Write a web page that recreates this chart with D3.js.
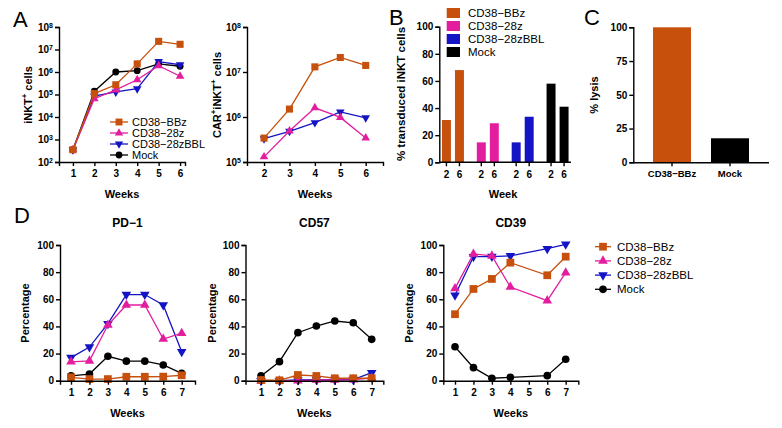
<!DOCTYPE html>
<html><head><meta charset="utf-8">
<script src="https://cdn.jsdelivr.net/npm/d3@7/dist/d3.min.js"></script>
<style>
body{margin:0;background:#fff;}
svg{display:block;font-family:"Liberation Sans",Arial,sans-serif;}
</style></head>
<body><svg id="c" width="782" height="428"></svg>
<script>
// ---------- DATA ----------
const seriesNames = ["CD38\u2212BBz","CD38\u221228z","CD38\u221228zBBL","Mock"];
const colors = ["#C6500C","#E21E9F","#1414C4","#000000"];

const weeksA1 = [1,2,3,4,5,6];
const a1BBz  = [350, 1.1e5, 2.7e5, 2.3e6, 2.3e7, 1.7e7];
const a1_28z = [350, 6.5e4, 1.6e5, 4.5e5, 1.9e6, 6.5e5];
const a1BBL  = [350, 8.5e4, 1.3e5, 1.8e5, 2.9e6, 2.1e6];
const a1Mock = [350, 1.4e5, 1.0e6, 1.15e6, 2.3e6, 1.8e6];
const a1Ticks = [1e2,1e3,1e4,1e5,1e6,1e7,1e8];

const weeksA2 = [2,3,4,5,6];
const a2BBz  = [3.4e5, 1.5e6, 1.3e7, 2.1e7, 1.4e7];
const a2_28z = [1.3e5, 4.9e5, 1.6e6, 9.8e5, 3.4e5];
const a2BBL  = [3.3e5, 4.8e5, 7.5e5, 1.3e6, 9.6e5];
const a2Ticks = [1e5,1e6,1e7,1e8];

const bWeeks = ["2","6"];
const bBBz  = [31.2, 68];
const b28z  = [14.7, 28.8];
const bBBL  = [14.7, 33.6];
const bMock = [58, 41];
const bTicks = [0,20,40,60,80,100];

const cCats = ["CD38\u2212BBz","Mock"];
const cLysis = [100, 17.8];
const cTicks = [0,25,50,75,100];

const weeksD = [1,2,3,4,5,6,7];
const pd1BBz  = [2.5, 1.2, 1.2, 2.9, 2.9, 3.0, 4.0];
const pd1_28z = [13.9, 14.6, 41, 55.8, 55.8, 30.7, 35];
const pd1BBL  = [17, 24.8, 42, 63.5, 63.5, 55.8, 21.4];
const pd1Mock = [3.6, 4.9, 18, 14.4, 14.4, 11.6, 5.4];

const cd57BBz  = [0.5, 0.3, 4.2, 3.5, 1.8, 1.8, 1.8];
const cd57_28z = [0, 0, 0, 0.5, 0.5, 0.8, 2];
const cd57BBL  = [0, 0, 0.5, 0.8, 0.8, 0.8, 5.9];
const cd57Mock = [3.5, 14, 35.4, 40.3, 44, 42.7, 30.5];

const weeksCD39 = [1,2,3,4,6,7];
const cd39BBz  = [49, 67.6, 75, 87, 77.7, 91.4];
const cd39_28z = [68, 93.4, 92, 69, 59, 79.6];
const cd39BBL  = [63, 91.4, 91.5, 92, 97.3, 100.5];
const cd39Mock = [25, 9.6, 1.8, 2.5, 3.7, 15.8];
const dTicks = [0,20,40,60,80,100];

// ---------- DRAWING ----------
const svg = d3.select("#c");
const FONT = "\"Liberation Sans\",Arial,sans-serif";
const symbolTypes = [d3.symbolSquare, d3.symbolTriangle, d3.symbolTriangle, d3.symbolCircle];
const symbolRot = [0,0,180,0];
const symA = [50, 32, 32, 38];
const symD = [60, 40, 40, 46];
const symLeg = [48, 30, 30, 36];

function styleAxis(g){
  g.selectAll("path.domain").attr("stroke","#000").attr("stroke-width",1.4);
  g.selectAll(".tick line").attr("stroke","#000").attr("stroke-width",1.4);
  g.selectAll(".tick text").attr("font-family",FONT).attr("font-weight","bold").attr("font-size","10px").attr("fill","#000");
}

function yTitle(x, y, parts, size){
  const t = svg.append("text").attr("transform",`translate(${x},${y}) rotate(-90)`)
    .attr("text-anchor","middle").attr("font-weight","bold").attr("font-size",size+"px");
  let prevSup=false;
  parts.forEach(([txt,sup])=>{
    const ts=t.append("tspan").text(txt);
    if(sup){ ts.attr("dy",(-0.45*size)+"px").attr("font-size",(size*0.7)+"px"); prevSup=true;}
    else if(prevSup){ ts.attr("dy",(0.45*size)+"px"); prevSup=false;}
  });
  return t;
}

function drawSeries(g, xs, ys, x, y, idx, sizes, lw){
  const pts = xs.map((d,i)=>[d, ys[i]]);
  g.append("path").datum(pts)
    .attr("fill","none").attr("stroke",colors[idx]).attr("stroke-width",lw)
    .attr("d", d3.line().x(d=>x(d[0])).y(d=>y(d[1])));
  g.selectAll(null).data(pts).enter().append("path")
    .attr("d", d3.symbol().type(symbolTypes[idx]).size(sizes[idx]))
    .attr("fill",colors[idx])
    .attr("transform", d=>`translate(${x(d[0])},${y(d[1])}) rotate(${symbolRot[idx]})`);
}

function linePanel(opt){
  const x = d3.scaleLinear().domain(opt.xDomain).range(opt.xRange);
  const y = (opt.log ? d3.scaleLog() : d3.scaleLinear()).domain(opt.yDomain).range(opt.yRange);
  const g = svg.append("g");
  for(let i=opt.series.length-1;i>=0;i--){
    const s = opt.series[i];
    drawSeries(g, s.x, s.y, x, y, s.idx, opt.sizes, 1.3);
  }
  const gx = svg.append("g").attr("transform",`translate(0,${opt.yRange[0]})`)
    .call(d3.axisBottom(x).tickValues(opt.xTicks).tickFormat(d3.format("d")).tickSizeOuter(0).tickSize(4).tickPadding(4));
  styleAxis(gx);
  const ya = d3.axisLeft(y).tickValues(opt.yTicks).tickSizeOuter(0).tickSize(4).tickPadding(2);
  if(!opt.log) ya.tickFormat(d3.format("d"));
  const gy = svg.append("g").attr("transform",`translate(${opt.xRange[0]},0)`).call(ya);
  styleAxis(gy);
  if(opt.log){
    gy.selectAll(".tick text").each(function(d){
      const t=d3.select(this); t.text("");
      t.append("tspan").text("10");
      t.append("tspan").attr("dy","-0.45em").attr("font-size","7px").text(Math.round(Math.log10(d)));
    });
  }
  return {x,y};
}

// ---------- Panel A1 ----------
linePanel({
  xDomain:[0.35,6.23], xRange:[59,185], yDomain:[1e2,1e8], yRange:[162,27], log:true,
  xTicks:weeksA1, yTicks:a1Ticks, sizes:symA,
  series:[
    {x:weeksA1,y:a1BBz,idx:0},{x:weeksA1,y:a1_28z,idx:1},
    {x:weeksA1,y:a1BBL,idx:2},{x:weeksA1,y:a1Mock,idx:3}]
});
svg.append("text").attr("x",122).attr("y",198).attr("text-anchor","middle")
  .attr("font-weight","bold").attr("font-size","11px").text("Weeks");
yTitle(32, 95, [["iNKT",false],["+",true],[" cells",false]], 11);

// A1 legend
seriesNames.forEach((n,i)=>{
  const yy = 122 + i*11;
  const lg = svg.append("g");
  lg.append("line").attr("x1",110).attr("x2",128).attr("y1",yy).attr("y2",yy).attr("stroke",colors[i]).attr("stroke-width",1.3);
  lg.append("path").attr("d",d3.symbol().type(symbolTypes[i]).size(symLeg[i])).attr("fill",colors[i])
    .attr("transform",`translate(119,${yy}) rotate(${symbolRot[i]})`);
  lg.append("text").attr("x",132).attr("y",yy+4).attr("font-size","11px").text(n);
});

// ---------- Panel A2 ----------
linePanel({
  xDomain:[1.33,6.68], xRange:[247,383], yDomain:[1e5,1e8], yRange:[162,27], log:true,
  xTicks:weeksA2, yTicks:a2Ticks, sizes:symA,
  series:[{x:weeksA2,y:a2BBz,idx:0},{x:weeksA2,y:a2_28z,idx:1},{x:weeksA2,y:a2BBL,idx:2}]
});
svg.append("text").attr("x",315).attr("y",198).attr("text-anchor","middle")
  .attr("font-weight","bold").attr("font-size","11px").text("Weeks");
yTitle(221, 95, [["CAR",false],["+",true],["iNKT",false],["+",true],[" cells",false]], 11);

// ---------- Panel B ----------
(function(){
  const groups = seriesNames;
  const vals = [bBBz,b28z,bBBL,bMock];
  const xg = d3.scaleBand().domain(groups).range([435.5,575]);
  const xi = d3.scaleBand().domain(bWeeks).range([-11,11]).paddingInner(0.31);
  const y = d3.scaleLinear().domain([0,100]).range([162.3,26.7]);
  const g = svg.append("g");
  groups.forEach((gr,gi)=>{
    bWeeks.forEach((w,wi)=>{
      const cx = xg(gr)+xg.bandwidth()/2;
      g.append("rect").attr("x",cx+xi(w)).attr("width",xi.bandwidth())
        .attr("y",y(vals[gi][wi])).attr("height",y(0)-y(vals[gi][wi]))
        .attr("fill",colors[gi]);
    });
  });
  const ax = svg.append("g");
  ax.append("line").attr("x1",439.3).attr("x2",571).attr("y1",y(0)).attr("y2",y(0)).attr("stroke","#000").attr("stroke-width",1.4);
  groups.forEach((gr,gi)=>{
    bWeeks.forEach(w=>{
      const cx = xg(gr)+xg.bandwidth()/2 + xi(w)+xi.bandwidth()/2;
      ax.append("line").attr("x1",cx).attr("x2",cx).attr("y1",y(0)).attr("y2",y(0)+4).attr("stroke","#000").attr("stroke-width",1.4);
      ax.append("text").attr("x",cx).attr("y",y(0)+16).attr("text-anchor","middle")
        .attr("font-weight","bold").attr("font-size","10px").text(w);
    });
  });
  const gy = svg.append("g").attr("transform","translate(439.3,0)")
    .call(d3.axisLeft(y).tickValues(bTicks).tickSizeOuter(0).tickSize(4).tickPadding(2));
  styleAxis(gy);
  svg.append("text").attr("x",503).attr("y",198).attr("text-anchor","middle")
    .attr("font-weight","bold").attr("font-size","11px").text("Week");
  yTitle(405, 94, [["% transduced iNKT cells",false]], 11.5);
  seriesNames.forEach((n,i)=>{
    const yy = 13 + i*13;
    svg.append("rect").attr("x",446.7).attr("y",yy-5).attr("width",13.3).attr("height",10).attr("fill",colors[i]);
    svg.append("text").attr("x",468).attr("y",yy+4).attr("font-size","11.5px").text(n);
  });
})();

// ---------- Panel C ----------
(function(){
  const x = d3.scaleBand().domain(cCats).range([643,759]).paddingInner(0.345).paddingOuter(0.1725);
  const y = d3.scaleLinear().domain([0,100]).range([162.3,27.3]);
  const cc = [colors[0], colors[3]];
  svg.append("g").selectAll("rect").data(cCats).enter().append("rect")
    .attr("x",d=>x(d)).attr("width",x.bandwidth())
    .attr("y",(d,i)=>y(cLysis[i])).attr("height",(d,i)=>y(0)-y(cLysis[i]))
    .attr("fill",(d,i)=>cc[i]);
  const gx = svg.append("g").attr("transform",`translate(0,${y(0)})`)
    .call(d3.axisBottom(x).tickSizeOuter(0).tickSize(4).tickPadding(4));
  gx.select("path.domain").attr("d",`M633.3,0.5H769`);
  styleAxis(gx);
  gx.selectAll(".tick text").attr("font-size","9.5px");
  const gy = svg.append("g").attr("transform","translate(633.3,0)")
    .call(d3.axisLeft(y).tickValues(cTicks).tickSizeOuter(0).tickSize(4).tickPadding(2));
  styleAxis(gy);
  yTitle(598, 95, [["% lysis",false]], 11);
})();

// ---------- Panel D ----------
const dPanels = [
  {title:"PD\u22121", ax:60, x1:71, end:195, xw:weeksD, data:[pd1BBz,pd1_28z,pd1BBL,pd1Mock], ylab:29},
  {title:"CD57", ax:245.5, x1:261, end:383.3, xw:weeksD, data:[cd57BBz,cd57_28z,cd57BBL,cd57Mock], ylab:216},
  {title:"CD39", ax:443.3, x1:455, end:578.3, xw:weeksCD39, data:[cd39BBz,cd39_28z,cd39BBL,cd39Mock], ylab:413}
];
const dStep = 18.45;
dPanels.forEach(p=>{
  const x0 = 1 - (p.x1-p.ax)/dStep;
  const x7 = 7 + (p.end - (p.x1+6*dStep))/dStep;
  linePanel({
    xDomain:[x0,x7], xRange:[p.ax,p.end], yDomain:[0,100], yRange:[380.7,245], log:false,
    xTicks:weeksD, yTicks:dTicks, sizes:symD,
    series:p.data.map((d,i)=>({x:p.xw,y:d,idx:i}))
  });
  const cx = (p.ax+p.end)/2;
  svg.append("text").attr("x",cx).attr("y",227).attr("text-anchor","middle")
    .attr("font-weight","bold").attr("font-size","12px").text(p.title);
  svg.append("text").attr("x",cx).attr("y",417).attr("text-anchor","middle")
    .attr("font-weight","bold").attr("font-size","11px").text("Weeks");
  yTitle(p.ylab, 313, [["Percentage",false]], 11);
});
// D legend
seriesNames.forEach((n,i)=>{
  const yy = 246.7 + i*14.2;
  svg.append("line").attr("x1",595).attr("x2",611).attr("y1",yy).attr("y2",yy).attr("stroke",colors[i]).attr("stroke-width",1.3);
  svg.append("path").attr("d",d3.symbol().type(symbolTypes[i]).size(symD[i])).attr("fill",colors[i])
    .attr("transform",`translate(603,${yy}) rotate(${symbolRot[i]})`);
  svg.append("text").attr("x",617).attr("y",yy+4).attr("font-size","11.5px").text(n);
});

// ---------- Panel letters ----------
[["A",13,27],["B",389,25],["C",584,25],["D",14,223]].forEach(([t,x,y])=>{
  svg.append("text").attr("x",x).attr("y",y).attr("font-size","22px").text(t);
});
</script></body></html>
